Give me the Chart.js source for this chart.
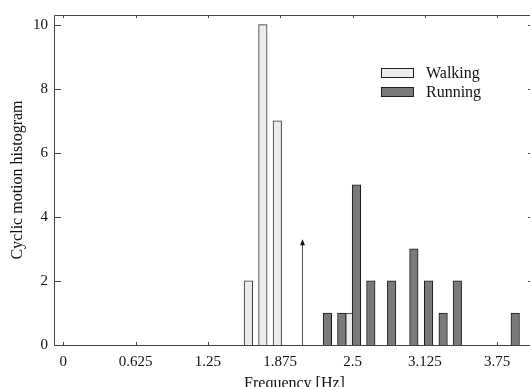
<!DOCTYPE html>
<html>
<head>
<meta charset="utf-8">
<script src="https://cdn.jsdelivr.net/npm/chart.js@4.4.0/dist/chart.umd.min.js"></script>
<style>
  html, body { margin: 0; padding: 0; background: #fff; overflow: hidden; }
  #wrap { width: 540px; height: 387px; }
</style>
</head>
<body>
<div id="wrap"><canvas id="chart" width="540" height="387"></canvas></div>
<script>
// histogram bins (Hz, count)
const walkingFreq = [1.6, 1.725, 1.85, 2.478];
const walkingCount = [2, 10, 7, 1];
const runningFreq = [2.283, 2.407, 2.534, 2.658, 2.838, 3.03, 3.157, 3.283, 3.406, 3.906];
const runningCount = [1, 1, 5, 2, 2, 3, 2, 1, 2, 1];
const xTicks = [0, 0.625, 1.25, 1.875, 2.5, 3.125, 3.75];
const yTicks = [0, 2, 4, 6, 8, 10];
// the little arrow marker
const arrowFreq = 2.06;
const arrowTop = 3.3;

const serif = "'Liberation Serif', 'DejaVu Serif', serif";
const axisColor = '#444';

const toPoints = (xs, ys) => xs.map((x, i) => ({ x: x, y: ys[i] }));

// frame with inward ticks, arrow, legend
const decorations = {
  id: 'decorations',
  beforeDatasetsDraw(chart) {
    const { ctx, chartArea: a, scales } = chart;
    ctx.save();
    ctx.strokeStyle = axisColor;
    ctx.lineWidth = 1;
    ctx.beginPath();
    ctx.rect(Math.round(a.left) + 0.5, Math.round(a.top) + 0.5,
      Math.round(a.right - a.left), Math.round(a.bottom - a.top));
    ctx.stroke();
    ctx.beginPath();
    xTicks.forEach(v => {
      const px = Math.round(scales.x.getPixelForValue(v)) + 0.5;
      ctx.moveTo(px, a.bottom); ctx.lineTo(px, a.bottom - 3);
      ctx.moveTo(px, a.top); ctx.lineTo(px, a.top + 3);
    });
    yTicks.forEach(v => {
      const py = Math.round(scales.y.getPixelForValue(v)) + 0.5;
      ctx.moveTo(a.left, py); ctx.lineTo(a.left + 7, py);
      ctx.moveTo(a.right, py); ctx.lineTo(a.right - 7, py);
    });
    ctx.stroke();

    // arrow
    const ax = Math.round(scales.x.getPixelForValue(arrowFreq)) + 0.5;
    const ay0 = scales.y.getPixelForValue(0);
    const ay1 = scales.y.getPixelForValue(arrowTop);
    ctx.strokeStyle = '#555';
    ctx.beginPath();
    ctx.moveTo(ax, ay0); ctx.lineTo(ax, ay1 + 4);
    ctx.stroke();
    ctx.fillStyle = '#111';
    ctx.beginPath();
    ctx.moveTo(ax, ay1); ctx.lineTo(ax - 2.5, ay1 + 6); ctx.lineTo(ax + 2.5, ay1 + 6);
    ctx.closePath();
    ctx.fill();
    ctx.restore();
  },
  afterDraw(chart) {
    const { ctx } = chart;
    ctx.save();
    ctx.font = '16px ' + serif;
    ctx.textBaseline = 'middle';
    chart.data.datasets.slice().reverse().forEach((ds, i) => {
      const y = 68 + i * 19;
      ctx.fillStyle = ds.backgroundColor;
      ctx.fillRect(381, y, 33, 10);
      ctx.strokeStyle = '#222';
      ctx.lineWidth = 1;
      ctx.strokeRect(381.5, y + 0.5, 32, 9);
      ctx.fillStyle = '#111';
      ctx.fillText(ds.label, 426, y + 5.5);
    });
    ctx.restore();
  }
};

new Chart(document.getElementById('chart'), {
  type: 'bar',
  data: {
    datasets: [
      {
        label: 'Running',
        data: toPoints(runningFreq, runningCount),
        backgroundColor: '#7a7a7a',
        borderColor: '#1a1a1a',
        borderWidth: 1,
        borderSkipped: 'start',
        barThickness: 8.5
      },
      {
        label: 'Walking',
        data: toPoints(walkingFreq, walkingCount),
        backgroundColor: '#ececec',
        borderColor: '#333',
        borderWidth: 1,
        borderSkipped: 'start',
        barThickness: 8.5
      }
    ]
  },
  options: {
    responsive: false,
    animation: false,
    grouped: false,
    layout: { padding: { top: 14, right: 5, left: 0, bottom: 0 } },
    plugins: { legend: { display: false }, tooltip: { enabled: false } },
    scales: {
      x: {
        type: 'linear',
        offset: false,
        min: -0.08,
        max: 4.077,
        afterBuildTicks: s => { s.ticks = xTicks.map(v => ({ value: v })); },
        afterFit: s => { s.height = 42; },
        grid: { display: false, drawTicks: false },
        border: { display: false },
        ticks: { color: '#111', padding: 8, maxRotation: 0, autoSkip: false,
          font: { family: serif, size: 15 }, callback: v => String(v) },
        title: { display: true, text: 'Frequency [Hz]', color: '#111',
          font: { family: serif, size: 16 }, padding: { top: 0, bottom: -6 } }
      },
      y: {
        min: 0,
        max: 10.3,
        afterBuildTicks: s => { s.ticks = yTicks.map(v => ({ value: v })); },
        afterFit: s => { s.width = 54; },
        grid: { display: false, drawTicks: false },
        border: { display: false },
        ticks: { color: '#111', padding: 6, font: { family: serif, size: 15 } },
        title: { display: true, text: 'Cyclic motion histogram', color: '#111',
          font: { family: serif, size: 16 }, padding: { top: 8, bottom: 0 } }
      }
    }
  },
  plugins: [decorations]
});
</script>
</body>
</html>
